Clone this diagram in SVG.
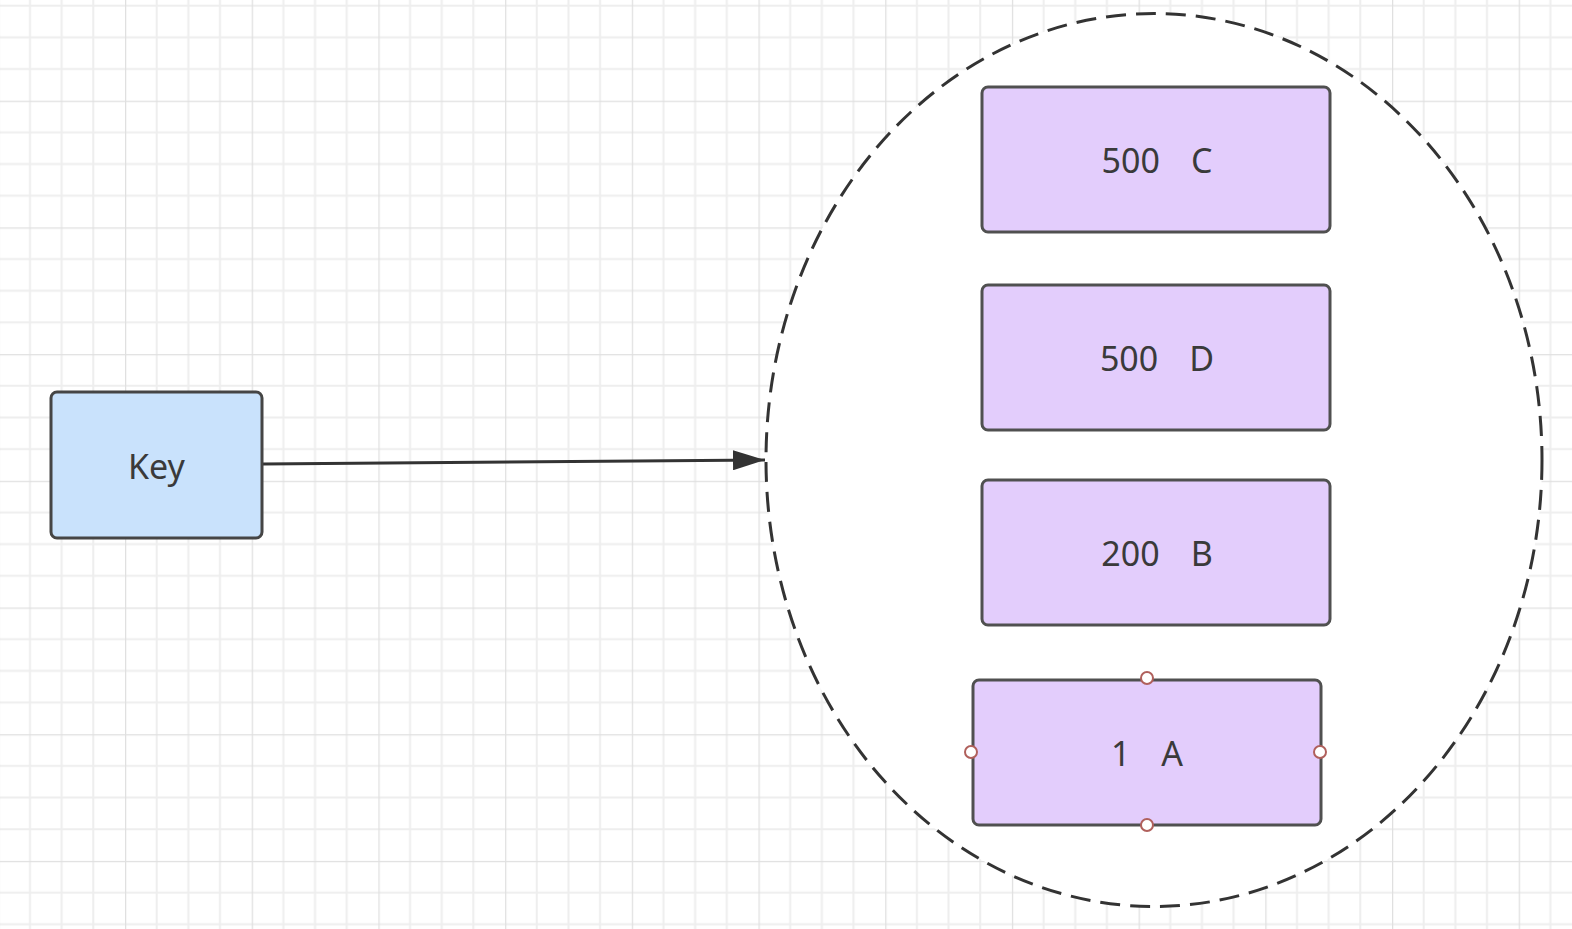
<svg xmlns="http://www.w3.org/2000/svg" width="1572" height="929" viewBox="0 0 1572 929">
  <style>
    .lbl { font-family: "Noto Sans", "Open Sans", "Liberation Sans", sans-serif; font-size: 34px; fill: #3a3a3a; text-anchor: middle; dominant-baseline: central; white-space: pre; word-spacing: 1.5px; }
    .key { fill: #c9e2fc; stroke: #454545; stroke-width: 3; }
    .item { fill: #e3cdfc; stroke: #505050; stroke-width: 3; }
    .handle { fill: #ffffff; stroke: #b0605c; stroke-width: 2; }
    .edge { fill: none; stroke: #333333; stroke-width: 3; }
  </style>
  <defs>
    <pattern id="grid" x="-1.7" y="-26" width="126.7" height="126.7" patternUnits="userSpaceOnUse">
      <path d="M31.7 0V126.7M63.35 0V126.7M95 0V126.7M0 31.7H126.7M0 63.35H126.7M0 95H126.7" stroke="#eeeeee" stroke-width="2" fill="none"/>
      <path d="M0 0V126.7M0 0H126.7" stroke="#e0e0e0" stroke-width="2.5" fill="none"/>
    </pattern>
    <marker id="arrow" viewBox="0 0 32 20" refX="32" refY="10" markerWidth="32" markerHeight="20" markerUnits="userSpaceOnUse" orient="auto">
      <path d="M0 0L32 10L0 20Z" fill="#333333"/>
    </marker>
  </defs>

  <rect x="0" y="0" width="1572" height="929" fill="#ffffff"/>
  <rect x="0" y="0" width="1572" height="929" fill="url(#grid)"/>

  <g id="container">
    <ellipse cx="1154" cy="460" rx="388" ry="446.5" fill="#ffffff" stroke="#333333" stroke-width="3" stroke-dasharray="20 10"/>
  </g>

  <g id="connectors">
    <path class="edge" d="M263 464L765 460" marker-end="url(#arrow)"/>
  </g>

  <g id="node-key">
    <rect class="key" x="51" y="392" width="211" height="146" rx="6"/>
    <text class="lbl" x="156.5" y="466">Key</text>
  </g>

  <g id="node-500C">
    <rect class="item" x="982" y="87" width="348" height="145" rx="6"/>
    <text class="lbl" x="1157" y="160">500   C</text>
  </g>

  <g id="node-500D">
    <rect class="item" x="982" y="285" width="348" height="145" rx="6"/>
    <text class="lbl" x="1157" y="358">500   D</text>
  </g>

  <g id="node-200B">
    <rect class="item" x="982" y="480" width="348" height="145" rx="6"/>
    <text class="lbl" x="1157" y="553">200   B</text>
  </g>

  <g id="node-1A">
    <rect class="item" x="973" y="680" width="348" height="145" rx="6"/>
    <text class="lbl" x="1147" y="753">1   A</text>
    <circle class="handle" cx="1147" cy="678" r="6"/>
    <circle class="handle" cx="1147" cy="825" r="6"/>
    <circle class="handle" cx="971" cy="752" r="6"/>
    <circle class="handle" cx="1320" cy="752" r="6"/>
  </g>
</svg>
